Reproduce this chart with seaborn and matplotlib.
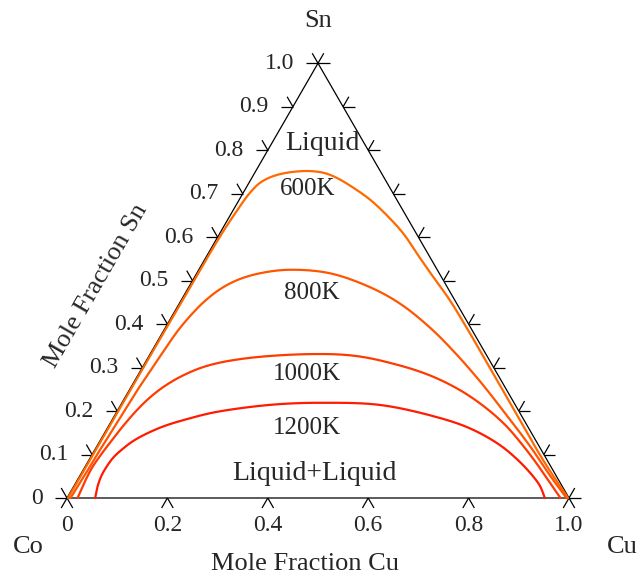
import numpy as np
import pandas as pd
import matplotlib
matplotlib.use("Agg")
import matplotlib.pyplot as plt
from matplotlib.collections import LineCollection
import seaborn as sns

sns.set_style("white")
plt.rcParams["font.family"] = ["Liberation Serif", "DejaVu Serif"]

# Liquid miscibility-gap boundaries (mole fractions Cu, Sn) at each temperature
temps = ["600K", "800K", "1000K", "1200K"]
colors = ["#ff6a00", "#ff5500", "#ff3a00", "#ff1a00"]

cu_600 = [0.002, 0.002, 0.002, 0.003, 0.004, 0.008, 0.013, 0.022, 0.040, 0.068,
          0.108, 0.141, 0.170, 0.213, 0.261, 0.311, 0.365, 0.425, 0.468, 0.534,
          0.605, 0.697, 0.813, 0.905, 0.998]
sn_600 = [0.000, 0.150, 0.300, 0.450, 0.600, 0.660, 0.700, 0.725, 0.740, 0.749,
          0.752, 0.747, 0.736, 0.714, 0.686, 0.651, 0.609, 0.554, 0.515, 0.456,
          0.387, 0.295, 0.179, 0.087, 0.000]

cu_800 = [0.007, 0.009, 0.010, 0.012, 0.014, 0.016, 0.020, 0.024, 0.028, 0.036,
          0.048, 0.067, 0.093, 0.130, 0.182, 0.265, 0.361, 0.440, 0.527, 0.606,
          0.689, 0.774, 0.863, 0.936, 0.995]
sn_800 = [0.000, 0.051, 0.099, 0.147, 0.196, 0.246, 0.295, 0.343, 0.382, 0.419,
          0.453, 0.483, 0.504, 0.518, 0.525, 0.517, 0.485, 0.447, 0.392, 0.334,
          0.268, 0.196, 0.119, 0.052, 0.000]

cu_1000 = [0.021, 0.017, 0.015, 0.018, 0.023, 0.029, 0.037, 0.048, 0.064, 0.089,
           0.127, 0.194, 0.319, 0.410, 0.499, 0.582, 0.659, 0.728, 0.789, 0.844,
           0.894, 0.938, 0.983]
sn_1000 = [0.000, 0.035, 0.069, 0.101, 0.133, 0.166, 0.198, 0.228, 0.255, 0.281,
           0.304, 0.321, 0.331, 0.327, 0.308, 0.282, 0.248, 0.209, 0.168, 0.124,
           0.081, 0.041, 0.000]

cu_1200 = [0.056, 0.048, 0.043, 0.043, 0.046, 0.055, 0.067, 0.087, 0.112, 0.147,
           0.191, 0.251, 0.316, 0.394, 0.517, 0.651, 0.723, 0.794, 0.845, 0.896,
           0.928, 0.952]
sn_1200 = [0.000, 0.025, 0.051, 0.074, 0.094, 0.114, 0.132, 0.150, 0.166, 0.181,
           0.196, 0.208, 0.216, 0.219, 0.214, 0.184, 0.160, 0.126, 0.094, 0.056,
           0.028, 0.000]

# Axis ticks
sn_ticks = [0.0, 0.1, 0.2, 0.3, 0.4, 0.5, 0.6, 0.7, 0.8, 0.9, 1.0]
sn_labels = ["0", "0.1", "0.2", "0.3", "0.4", "0.5", "0.6", "0.7", "0.8", "0.9", "1.0"]
cu_ticks = [0.0, 0.2, 0.4, 0.6, 0.8, 1.0]
cu_labels = ["0", "0.2", "0.4", "0.6", "0.8", "1.0"]
right_ticks = [0.0, 0.1, 0.2, 0.3, 0.4, 0.5, 0.6, 0.7, 0.8, 0.9, 1.0]

H = np.sqrt(3) / 2


def to_xy(cu, sn):
    cu = np.asarray(cu, float)
    sn = np.asarray(sn, float)
    return cu + sn / 2, sn * H


def smooth_path(x, y, n=16):
    """Centripetal Catmull-Rom curve through the given points."""
    p = np.column_stack([x, y])
    p = np.vstack([2 * p[0] - p[1], p, 2 * p[-1] - p[-2]])
    out = []
    for i in range(1, len(p) - 2):
        p0, p1, p2, p3 = p[i - 1], p[i], p[i + 1], p[i + 2]
        t0 = 0.0
        t1 = t0 + np.linalg.norm(p1 - p0) ** 0.5 + 1e-9
        t2 = t1 + np.linalg.norm(p2 - p1) ** 0.5 + 1e-9
        t3 = t2 + np.linalg.norm(p3 - p2) ** 0.5 + 1e-9
        t = np.linspace(t1, t2, n, endpoint=False)[:, None]
        a1 = (t1 - t) / (t1 - t0) * p0 + (t - t0) / (t1 - t0) * p1
        a2 = (t2 - t) / (t2 - t1) * p1 + (t - t1) / (t2 - t1) * p2
        a3 = (t3 - t) / (t3 - t2) * p2 + (t - t2) / (t3 - t2) * p3
        b1 = (t2 - t) / (t2 - t0) * a1 + (t - t0) / (t2 - t0) * a2
        b2 = (t3 - t) / (t3 - t1) * a2 + (t - t1) / (t3 - t1) * a3
        c = (t2 - t) / (t2 - t1) * b1 + (t - t1) / (t2 - t1) * b2
        out.append(c)
    out.append(p[-2][None, :])
    out = np.vstack(out)
    return out[:, 0], out[:, 1]


frames = []
for t, cu, sn in zip(temps,
                     [cu_600, cu_800, cu_1000, cu_1200],
                     [sn_600, sn_800, sn_1000, sn_1200]):
    x, y = smooth_path(*to_xy(cu, sn))
    frames.append(pd.DataFrame({"x": x, "y": y, "T": t}))
df = pd.concat(frames, ignore_index=True)

W, Hpx = 641, 576
fig = plt.figure(figsize=(W / 100, Hpx / 100), dpi=100)
ax = fig.add_axes([0, 0, 1, 1])
scale = 502.0
x0 = -67 / scale
y0 = -78 / scale
ax.set_xlim(x0, x0 + W / scale)
ax.set_ylim(y0, y0 + Hpx / scale)
ax.axis("off")

# triangle frame
tri_x = [0, 1, 0.5, 0]
tri_y = [0, 0, H, 0]
ax.plot(tri_x, tri_y, color="black", lw=0.9, zorder=1)

# tick marks
L = 0.023
segs = []
for s in sn_ticks:
    px, py = s / 2, s * H
    segs.append([(px - L, py), (px, py)])
    segs.append([(px, py), (px - 0.5 * L, py + H * L)])
for c in cu_ticks:
    segs.append([(c, 0), (c - 0.5 * L, -H * L)])
    segs.append([(c, 0), (c + 0.5 * L, -H * L)])
for s in right_ticks:
    px, py = 1 - s / 2, s * H
    segs.append([(px, py), (px + L, py)])
    segs.append([(px, py), (px + 0.5 * L, py + H * L)])
ax.add_collection(LineCollection(segs, colors="black", linewidths=0.9, zorder=1))

sns.lineplot(data=df, x="x", y="y", hue="T", hue_order=temps,
             palette=dict(zip(temps, colors)), units="T", estimator=None,
             sort=False, legend=False, lw=1.6, ax=ax, zorder=3)

fs_tick = 17
for s, lab in zip(sn_ticks, sn_labels):
    ax.text(s / 2 - L - 0.025, s * H, lab, ha="right", va="center", fontsize=fs_tick)
for c, lab in zip(cu_ticks, cu_labels):
    ax.text(c, -0.055, lab, ha="center", va="center", fontsize=fs_tick)


def pix(px, py):
    return x0 + px / scale, y0 + (Hpx - py) / scale


fs_lab = 19
ax.text(*pix(318, 21), "Sn", ha="center", va="center", fontsize=fs_lab)
ax.text(*pix(28, 547), "Co", ha="center", va="center", fontsize=fs_lab)
ax.text(*pix(622, 547), "Cu", ha="center", va="center", fontsize=fs_lab)
ax.text(*pix(305, 564), "Mole Fraction Cu", ha="center", va="center", fontsize=fs_lab)
ax.text(*pix(96, 286), "Mole Fraction Sn", ha="center", va="center", fontsize=fs_lab,
        rotation=60, rotation_mode="anchor")

fs_in = 20
ax.text(*pix(322, 143), "Liquid", ha="center", va="center", fontsize=fs_in)
ax.text(*pix(314, 474), "Liquid+Liquid", ha="center", va="center", fontsize=fs_in)
for t, (px, py) in zip(temps, [(308, 189), (312, 293), (307, 374), (307, 428)]):
    ax.text(*pix(px, py), t, ha="center", va="center", fontsize=18)

fig.savefig("out.png", dpi=100)
